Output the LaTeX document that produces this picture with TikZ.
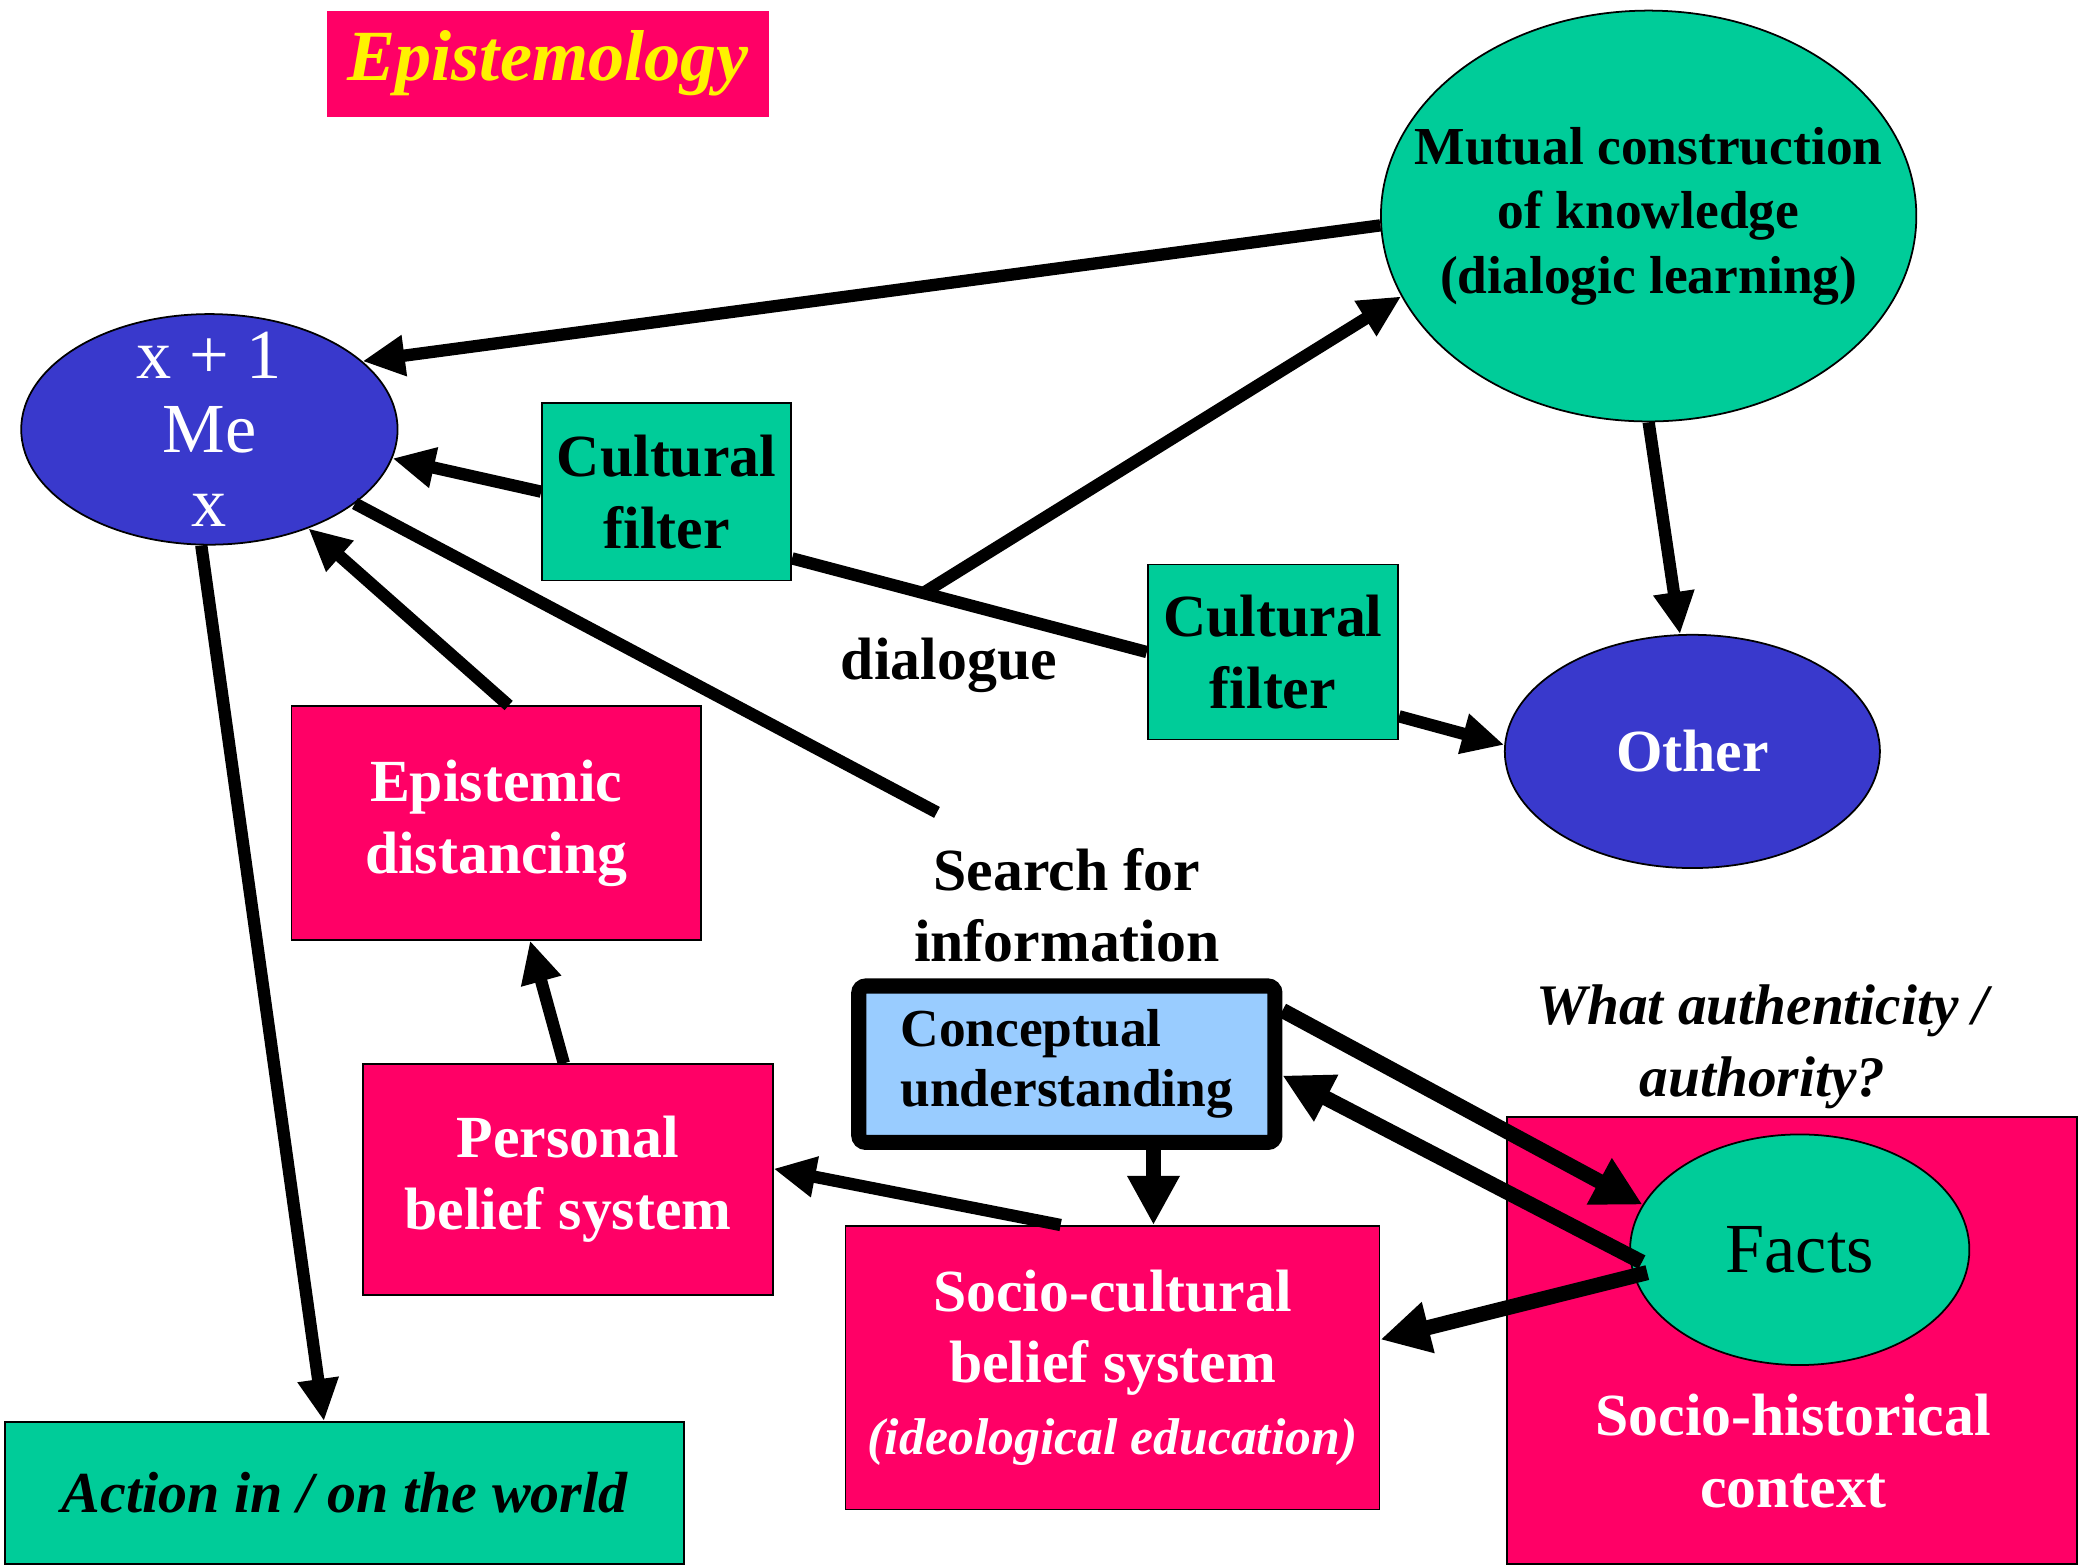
\documentclass[tikz,border=0pt]{standalone}
\usepackage{fontspec}
\setmainfont{Liberation Serif}
\usetikzlibrary{shapes.geometric, arrows.meta}

\definecolor{hotpink}{HTML}{FF0066}
\definecolor{seagreen}{HTML}{00CC99}
\definecolor{meblue}{HTML}{3939CC}
\definecolor{skyblue}{HTML}{99CCFF}

\def\pxu{0.01325cm}
\tikzset{
    box/.style={rectangle, draw=black, line width=0.5pt, inner sep=0pt, align=center},
    pinkbox/.style={box, fill=hotpink, text=white, font=\bfseries\fontsize{17}{20.4}\selectfont},
    filterbox/.style={box, fill=seagreen, font=\bfseries\fontsize{17}{20.4}\selectfont},
    blob/.style={ellipse, draw=black, line width=0.5pt, inner sep=0pt, align=center},
    freetext/.style={align=center, inner sep=0pt, font=\bfseries\fontsize{17}{20.4}\selectfont},
    arr/.style={line width=3.5pt, -{Triangle[length=12pt,width=11pt]}},
    fatarr/.style={line width=4.3pt, -{Triangle[length=14pt,width=14pt]}},
    link/.style={line width=3.5pt}
}

\begin{document}
\begin{tikzpicture}[x=\pxu, y=-\pxu]
        \useasboundingbox (0,0) rectangle (1568,1182);

        % Top row
        \node[pinkbox, draw=none, text=yellow, minimum width={333*\pxu}, minimum height={80*\pxu},
              font=\bfseries\itshape\fontsize{20.5}{24}\selectfont] (Title) at (413.5,48) {Epistemology};
        \node[blob, fill=meblue, text=white, minimum width={284*\pxu}, minimum height={174*\pxu},
              inner ysep={-22*\pxu}, font=\fontsize{20}{21}\selectfont] (Me) at (158,324) {x + 1\\Me\\x};
        \node[blob, fill=seagreen, minimum width={404*\pxu}, minimum height={310*\pxu}, inner xsep={-45*\pxu},
              font=\bfseries\fontsize{15.2}{18.3}\selectfont] (Mutual) at (1244,163)
              {Mutual construction\\of knowledge\\(dialogic learning)};

        % Filters and dialogue
        \node[filterbox, minimum width={188*\pxu}, minimum height={134*\pxu}] (Filter1) at (503,371) {Cultural\\filter};
        \node[filterbox, minimum width={189*\pxu}, minimum height={132*\pxu}] (Filter2) at (960.5,492) {Cultural\\filter};
        \node[blob, fill=meblue, text=white, minimum width={283*\pxu}, minimum height={176*\pxu},
              font=\bfseries\fontsize{17}{20.4}\selectfont] (Other) at (1277,567) {Other};
        \node[freetext] (Dialogue) at (716,502) {dialogue};

        % Middle and bottom
        \node[pinkbox, minimum width={309*\pxu}, minimum height={176*\pxu}] (Epistemic) at (374.5,621) {Epistemic\\distancing};
        \node[freetext] (Search) at (805,683) {Search for\\information};
        \coordinate (SearchEnd) at (707,613);
        \node[box, fill=skyblue, line width=4.3pt, rounded corners=2pt, minimum width={314*\pxu}, minimum height={118*\pxu},
              align=left, font=\bfseries\fontsize{15.2}{17}\selectfont] (Concept) at (805,803) {Conceptual\\understanding};
        \node[pinkbox, minimum width={309*\pxu}, minimum height={174*\pxu}] (Personal) at (428.5,890) {Personal\\belief system};
        \node[pinkbox, minimum width={403*\pxu}, minimum height={214*\pxu}] (SocioCult) at (839.5,1032)
              {Socio-cultural\\belief system\\{\fontsize{14.7}{17}\selectfont\itshape (ideological education)}};
        \node[box, fill=hotpink, minimum width={430*\pxu}, minimum height={337*\pxu}] (SocHist) at (1352,1011.5) {};
        \node[blob, fill=seagreen, minimum width={256*\pxu}, minimum height={174*\pxu},
              font=\fontsize{20}{24}\selectfont] (Facts) at (1358,943) {Facts};
        \node[freetext, text=white] (SocHistText) at (1353,1095) {Socio-historical\\context};
        \node[freetext, font=\bfseries\itshape\fontsize{16.3}{20.4}\selectfont] (Authority) at (1330,790)
              {What authenticity /\\authority?};
        \node[box, fill=seagreen, minimum width={512*\pxu}, minimum height={107*\pxu},
              font=\bfseries\itshape\fontsize{16.5}{20}\selectfont] (Action) at (260,1126.5) {Action in / on the world};

        % Connectors
        \draw[arr] (Mutual.182) -- (Me.24);
        \draw[arr] (Filter1.west) -- (Me.-9);
        \draw[link] (Filter1.-28) -- coordinate[pos=0.37] (talk) (Filter2.west);
        \draw[arr] (talk) -- (Mutual.198);
        \draw[arr] (Filter2.-27) -- (Other.178);
        \draw[arr] (Mutual.-90) -- (Other.96);
        \draw[arr] (Epistemic.84) -- (Me.-45);
        \draw[link] (SearchEnd) -- (Me.-27);
        \draw[arr] (Me.-94) -- (Action.106);
        \draw[arr] (Personal.92) -- (Epistemic.-74);
        \draw[arr] (SocioCult.110) -- (Personal.3);
        \draw[fatarr] (SocioCult.74 |- Concept.south) -- (SocioCult.74);
        \draw[fatarr] (Concept.14) -- (Facts.164);
        \draw[fatarr, shorten <=-4pt] (Facts.182) -- (Concept.-3);
        \draw[fatarr, shorten <=-4pt] (Facts.189) -- (SocioCult.6);
\end{tikzpicture}
\end{document}
